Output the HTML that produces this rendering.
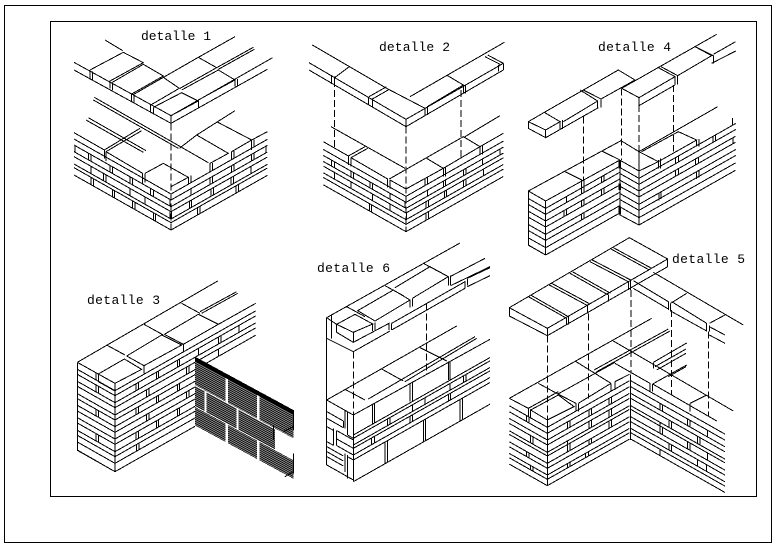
<!DOCTYPE html>
<html><head><meta charset="utf-8"><style>
html,body{margin:0;padding:0;background:#fff}
svg{display:block}
path,rect{fill:none;stroke:#000;stroke-width:1;vector-effect:non-scaling-stroke}
.d{stroke-dasharray:7 3}
text{font-family:"Liberation Mono",monospace;font-size:13px;fill:#000;stroke:none}
rect.h{fill:url(#hp);stroke:none}
rect.k{fill:#000;stroke:none}
rect.w{fill:#fff;stroke:none}
</style></head><body>
<svg width="774" height="546" viewBox="0 0 774 546" shape-rendering="crispEdges" xmlns="http://www.w3.org/2000/svg">
<defs>
<pattern id="hp" width="6" height="6" patternUnits="userSpaceOnUse"><rect width="6" height="6" style="fill:#999;stroke:none"/><rect width="6" height="3.5" style="fill:#000;stroke:none"/></pattern>
</defs>
<rect x="4.5" y="5.5" width="767" height="537"/>
<rect x="50.5" y="21.5" width="706" height="475"/>

<text x="141" y="40" textLength="70" lengthAdjust="spacing">detalle 1</text>
<text x="379" y="51" textLength="71" lengthAdjust="spacing">detalle 2</text>
<text x="598" y="51" textLength="73" lengthAdjust="spacing">detalle 4</text>
<text x="87" y="304" textLength="73" lengthAdjust="spacing">detalle 3</text>
<text x="317" y="272" textLength="73" lengthAdjust="spacing">detalle 6</text>
<text x="672" y="263" textLength="73" lengthAdjust="spacing">detalle 5</text>

<!-- DETALLE 1 -->
<g transform="translate(60,20) scale(.33333)">
<path d="M42 127L333 287L638 113M42 150L333 310L622 148M333 287V310M135 60L188 92M90 150L190 97L250 128L150 183V205M90 150V178M97 155V182M157 187V210M157 187L250 133L310 168L215 222V245M222 225V250M218 225L310 172L358 205L272 255V277M280 262V283M280 262L365 218L415 243L333 287M305 175L415 112L470 143L360 205M365 210L475 150L525 180L415 240V262M415 112L525 50M470 143L580 82M475 148L583 88M525 180V200M532 177V197"/>
<path class="d" d="M333 310V630"/>
<path d="M103 232L445 428M100 240L355 385M85 293L258 392M78 300L250 397M42 338L133 390L240 325M138 395L245 332M133 390V415M138 395V423M138 395L248 460V490M255 460V488M255 460L310 430L385 472L333 500M358 385L410 345L505 400L450 430V458M410 345L525 272M470 305L575 360V390M515 395L575 360M515 395V420M575 360L622 335"/>
<g transform="translate(333,500) matrix(1,.567,0,1,0,0)">
<path d="M-291 22H0M-291 40H0M-291 60H0M-291 75H0M-291 97H0M-291 108H0M-291 130H0"/>
<path d="M-288 40v20M-248 40v20M-240 40v20M-183 40v20M-176 40v20M-123 40v20M-115 40v20M-61 40v20M-53 40v20M-3 40v20M-240 75v22M-203 75v22M-195 75v22M-123 75v22M-78 75v22M-3 75v22M-240 108v22M-233 108v22M-176 108v22M-169 108v22M-115 108v22M-108 108v22M-53 108v22M-46 108v22"/>
</g>
<g transform="translate(333,500) matrix(1,-.567,0,1,0,0)">
<path d="M0 22H289M0 40H289M0 60H289M0 75H289M0 97H289M0 108H289M0 130H289"/>
<path d="M52 0v22M60 0v22M117 0v22M124 0v22M182 0v22M189 0v22M242 0v22M249 0v22M60 40v20M117 40v20M124 40v20M182 40v20M189 40v20M242 40v20M249 40v20M285 40v20M2 75v22M55 75v22M62 75v22M120 75v22M127 75v22M180 75v22M187 75v22M240 75v22M80 108v22M87 108v22M195 108v22M202 108v22"/>
</g>
</g>

<!-- DETALLE 2 -->
<g transform="translate(295,25) scale(.33333)">
<path d="M52 60L275 190L390 250M42 113L333 283M42 135L333 305M333 283V305M333 283L625 115M333 305L625 135M120 157L163 125M110 150V177M118 155V180M220 217V240M232 222V245M222 215L275 185M232 222L283 193M345 215L628 52M458 152L505 180L397 245M390 250V272M397 245V270M505 180V205M512 178V205M570 95L615 118M578 90L625 115M610 120V140M625 115V135"/>
<path class="d" d="M118 165V370M333 305V620M498 195V400"/>
<path d="M108 305L330 430M85 350L160 393V420M168 398V425M160 393L210 365M168 398L218 370M168 398L278 462V488M285 465V490M285 465L333 492L445 430L395 400M283 462L505 335L555 365L445 430V455M452 428V455M510 335L615 272M555 365L625 325M555 365V388M562 362V388"/>
<g transform="translate(333,492) matrix(1,.567,0,1,0,0)">
<path d="M-248 22H0M-248 40H0M-248 58H0M-248 72H0M-248 92H0M-248 106H0M-248 128H0"/>
<path d="M-223 40v18M-215 40v18M-165 40v18M-157 40v18M-108 40v18M-100 40v18M-48 40v18M-3 40v18M-215 72v20M-165 72v20M-100 72v20M-48 72v20M-110 106v22M-103 106v22"/>
</g>
<g transform="translate(333,492) matrix(1,-.567,0,1,0,0)">
<path d="M0 22H292M0 40H292M0 58H292M0 72H292M0 92H292M0 106H292M0 128H292"/>
<path d="M57 0v22M64 0v22M112 0v22M119 0v22M222 0v22M229 0v22M64 40v18M112 40v18M119 40v18M172 40v18M180 40v18M229 40v18M282 40v18M2 72v20M60 72v20M67 72v20M115 72v20M122 72v20M172 72v20M180 72v20M232 72v20M60 106v22M67 106v22"/>
</g>
</g>

<!-- DETALLE 4 -->
<g transform="translate(515,25) scale(.33333)">
<path d="M40 290L88 262L135 290L92 315L40 290V310L92 338V315M92 338L250 248M135 290V315M143 285V312M88 262L310 135L360 165M145 290L248 228L195 195M248 228V248M258 222V248M258 222L360 165M205 195L258 222M320 190L605 28M320 190L372 218L480 155M372 218V242L480 180M430 128L480 155V180M488 152V178M488 152L590 92L540 65M540 65L595 92V115M590 115L662 78M595 88L662 50M438 125L488 152"/>
<path class="d" d="M205 275V465M320 190V405M372 240V380M475 180V380"/>
<path d="M40 498L318 347L372 380L608 245M40 498L92 528L315 405M40 498V660L92 690M92 528V690M150 440L200 465V490M207 462V490M260 378L315 405M372 380L430 410M380 380L490 320L545 345L430 410V430M437 405V430M545 345V365M552 342V365M372 380V600M315 405V570L372 600M372 438L430 410"/>
<path d="M315 405V430M315 475V495M315 545V568" style="stroke-width:2.5"/>
<g transform="translate(92,528) matrix(1,.567,0,1,0,0)">
<path d="M-52 22H0M-52 40H0M-52 60H0M-52 78H0M-52 100H0M-52 118H0M-52 140H0M-52 162H0"/>
</g>
<g transform="translate(92,528) matrix(1,-.567,0,1,0,0)">
<path d="M0 22H223M0 40H223M0 60H223M0 78H223M0 100H223M0 118H223M0 140H223M0 162H223"/>
<path d="M62 22v18M108 22v18M115 22v18M168 22v18M175 22v18M55 60v18M62 60v18M108 60v18M115 60v18M168 60v18M175 60v18M108 100v18M115 100v18"/>
</g>
<g transform="translate(372,438) matrix(1,.567,0,1,0,0)">
<path d="M-57 0H0M-57 22H0M-57 40H0M-57 60H0M-57 78H0M-57 100H0M-57 118H0M-57 140H0"/>
</g>
<g transform="translate(372,438) matrix(1,-.567,0,1,0,0)">
<path d="M0 22H290M0 40H290M0 60H290M0 78H290M0 100H290M0 118H290M0 140H290M0 162H290"/>
<path d="M58 0v22M65 0v22M110 22v18M118 22v18M222 22v18M230 22v18M280 0v22M110 60v18M118 60v18M170 60v18M178 60v18M282 60v18M60 100v22M66 100v22M172 100v22M180 100v22"/>
</g>
</g>

<!-- DETALLE 3 -->
<g transform="translate(70,275) scale(.33333)">
<path d="M22 262L443 18M22 262L135 325L215 283L163 252L85 297M135 325V590M22 262V525L135 590M110 210L165 240M222 148L280 180M335 85L390 115M85 297V320L135 348M78 292V315M170 243L275 180L335 210L222 272V295M170 243L222 272M283 178L385 118L445 148L340 208V232M283 178L340 208M390 110L500 50M395 115L503 55M445 148L557 85"/>
<g transform="translate(135,325) matrix(1,.567,0,1,0,0)">
<path d="M-113 22H0M-113 37H0M-113 58H0M-113 73H0M-113 95H0M-113 110H0M-113 130H0M-113 147H0M-113 167H0M-113 183H0M-113 205H0M-113 220H0M-113 240H0M-113 265H0"/>
<path d="M-57 37v21M-50 37v21M-57 110v20M-50 110v20M-57 183v22M-50 183v22"/>
</g>
<g transform="translate(135,325) matrix(1,-.567,0,1,0,0)">
<path d="M0 22H422M0 37H422M0 58H422M0 73H422M0 95H422M0 110H240M0 130H240M0 147H240M0 167H240M0 183H240M0 205H240M0 220H240M0 240H240M0 265H240"/>
<path d="M63 37v21M70 37v21M125 37v21M130 37v21M187 37v21M194 37v21M250 37v21M310 37v21M318 37v21M372 37v21M95 73v22M102 73v22M215 73v22M222 73v22M310 73v22M63 110v20M70 110v20M125 110v20M130 110v20M187 110v20M194 110v20M95 147v20M102 147v20M215 147v20M222 147v20M63 183v22M70 183v22M125 183v22M130 183v22M187 183v22M194 183v22M65 220v20M72 220v20"/>
</g>
<g transform="translate(375,245) matrix(1,.542,0,1,0,0)">
<rect class="h" x="0" y="0" width="295" height="85"/>
<rect class="h" x="0" y="88" width="240" height="60"/>
<rect class="h" x="0" y="151" width="295" height="55"/>
<rect class="k" x="0" y="0" width="295" height="13"/>
<rect class="w" x="92" y="14" width="7" height="71"/>
<rect class="w" x="186" y="14" width="7" height="71"/>
<rect class="w" x="28" y="88" width="7" height="60"/>
<rect class="w" x="124" y="88" width="7" height="60"/>
<rect class="w" x="92" y="151" width="7" height="55"/>
<rect class="w" x="186" y="151" width="7" height="55"/>
</g>
<path d="M670 405V465M640 470L670 455M610 450V495M670 535V595M645 605L670 590"/>
</g>

<!-- DETALLE 6 -->
<g transform="translate(310,255) scale(.33333)">
<path d="M50 188L450 -36M50 188L80 208M80 208L135 178L188 207L130 232L80 208V232L130 262L237 205V225M130 232V262M188 207V228M195 203V225M110 155L165 185M225 92L280 122M340 25L415 65M195 198L300 135L250 105L143 167L195 198M300 135V158M307 130V155M307 130L415 65L360 35L255 98M415 65V92M422 62V90M420 65L525 10M422 92L540 35M50 188V630M65 180V250M50 250L130 290L240 228M245 205V225M245 205L465 80V100M245 225L465 100M472 70V92M472 70L540 38M472 95L540 62"/>
<path class="d" d="M50 250V435M130 290V480M350 145V360"/>
<path d="M50 435L440 213M50 435L130 480M105 403L165 435M215 342L280 378M330 278L410 318M130 480L540 253M175 432L495 245M285 380L500 250M188 447V505M193 445V505M300 385V440M308 380V440M415 320V375M420 318V375"/>
<g transform="translate(130,480) matrix(1,.567,0,1,0,0)">
<path d="M-80 35H-30M-80 55H-30M-30 35V55M-25 0V55M-17 0V70M-17 70H0M-80 80H-60M-60 75V125M-80 125H-60M-50 75H0M-50 100H0M-50 120H0M-50 75V120M-80 140H-30M-80 155H-30M-80 170H-30M-25 130V185M-17 130V200M-17 135H0M-80 195H0M0 0V200"/>
</g>
<g transform="translate(130,480) matrix(1,-.567,0,1,0,0)">
<path d="M0 60H410M0 70H410M0 90H410M0 100H410M0 120H410M0 135H410M0 200H410"/>
<path d="M102 70v20M110 70v20M178 70v20M215 70v20M290 70v20M330 70v20M338 70v20M55 100v20M63 100v20M170 100v20M177 100v20M285 100v20M292 100v20M95 135v65M102 135v65M210 135v65M217 135v65M320 135v65M328 135v65"/>
</g>
</g>

<!-- DETALLE 5 -->
<g transform="translate(500,235) scale(.33333)">
<path d="M28 218L388 8L503 72L142 280L28 218V243L142 302V280M142 302L503 95V72M85 185L200 250V270M92 180L205 245V268M148 150L263 212V236M155 145L270 207M210 115L325 180V200M217 110L332 175M270 80L385 140V165M277 75L392 135V165M333 42L448 105M340 38L455 100M400 137L505 200V225M400 160L505 222M460 112L730 270M512 205L560 175M512 205V228L620 288M515 200L620 265V290M628 265L675 240M628 272V290M628 275L675 300M628 300L675 325"/>
<path class="d" d="M142 302V555M265 235V490M393 165V415M515 225V480M625 290V545"/>
<path d="M28 490L455 250M28 490L85 520M85 520L175 470M92 525L175 480L222 515L142 555L92 525V550M85 520V545M170 475L228 505V530M235 505L333 445M235 505V530M333 445V470M345 440V465M345 440L388 418M115 445L170 475M225 378L333 445M172 478L345 382M345 385L450 445V468M458 447V470M458 447L650 558M458 447L560 390M340 318L700 528M460 382V400M282 405L505 282M290 410L510 288M460 382L560 324M465 395L558 342M470 405L558 355M505 425L558 395M392 418V615M570 505L620 480M570 505V530"/>
<g transform="translate(142,555) matrix(1,.567,0,1,0,0)">
<path d="M-114 22H0M-114 40H0M-114 60H0M-114 75H0M-114 97H0M-114 108H0M-114 130H0M-114 145H0M-114 165H0M-114 178H0M-114 197H0M0 0V197"/>
<path d="M-62 22v18M-55 22v18M-50 75v22M-43 75v22M-62 130v15M-55 130v15M-50 165v13M-43 165v13"/>
</g>
<g transform="translate(142,555) matrix(1,-.567,0,1,0,0)">
<path d="M0 22H246M0 40H246M0 60H246M0 75H246M0 97H246M0 108H246M0 130H246M0 145H246M0 165H246M0 178H246M0 197H246"/>
<path d="M60 40v20M68 40v20M125 40v20M133 40v20M185 40v20M193 40v20M60 97v11M125 75v22M133 75v22M185 75v22M193 75v22M60 108v22M68 108v22M125 130v15M133 130v15M185 108v22M193 108v22M60 165v13M68 165v13M115 165v13M123 165v13"/>
</g>
<g transform="translate(392,415) matrix(1,.567,0,1,0,0)">
<path d="M0 22H283M0 40H283M0 60H283M0 75H283M0 97H283M0 108H283M0 130H283M0 145H283M0 165H283M0 178H283M0 197H283"/>
<path d="M88 40v20M96 40v20M170 40v20M178 40v20M230 40v20M88 97v11M115 75v22M123 75v22M200 75v22M208 75v22M88 108v22M96 108v22M170 108v22M178 108v22M230 108v22M115 145v20M123 145v20M200 145v20M228 145v20M88 178v19"/>
</g>
</g>
</svg>
</body></html>
